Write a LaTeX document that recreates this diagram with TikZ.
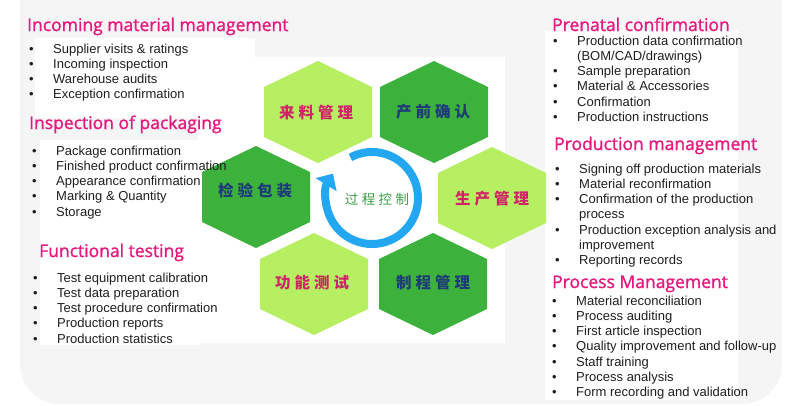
\documentclass[tikz,border=0pt]{standalone}
\usepackage{fontspec}
\setmainfont{Liberation Sans}
\newfontfamily\headfont[FakeBold=1.3]{Open Sans}
\newfontfamily\cjkfont{Noto Sans CJK SC}
\usetikzlibrary{arrows.meta}

\definecolor{headpink}{HTML}{E5197E}
\definecolor{lightgreen}{HTML}{B6F062}
\definecolor{darkgreen}{HTML}{3CB23C}
\definecolor{labelpink}{HTML}{D2226A}
\definecolor{labelnavy}{HTML}{1E3A78}
\definecolor{ringblue}{HTML}{22A7F0}
\definecolor{centergreen}{HTML}{3E9E4A}
\definecolor{backdrop}{HTML}{F5F5F5}

\newcommand\itm{\makebox[24pt][l]{•}}
\newcommand\itmcont{\hspace*{24pt}}
\newcommand\cg{\hspace{4pt}}

\tikzset{
  pics/hexcell/.style={code={
    \path[pic actions] (0,-51) -- (54,-25) -- (54,25) -- (0,51) -- (-54,25) -- (-54,-25) -- cycle;
  }},
}

\begin{document}
\begin{tikzpicture}[x=1pt, y=-1pt,
  every node/.style={inner sep=0pt},
  heading/.style={anchor=base west, text=headpink, font=\headfont\fontsize{17.5}{20}\selectfont},
  itemlist/.style={anchor=base west, text=black!88, font=\fontsize{13}{15.3}\selectfont},
  lightcell/.style={fill=lightgreen},
  darkcell/.style={fill=darkgreen},
  lightlabel/.style={text=labelpink, font=\cjkfont\bfseries\fontsize{15.5}{18}\selectfont},
  darklabel/.style={text=labelnavy, font=\cjkfont\bfseries\fontsize{15.5}{18}\selectfont},
  ringarrow/.style={draw=ringblue, line width=8pt, -{Triangle[width=24pt,length=13pt]}}]

\useasboundingbox (0,0) rectangle (794,405);

% backdrop
\fill[backdrop, rounded corners=40pt] (20,-40) rectangle (782,404);
\fill[white] (35,38) rectangle (255,118);
\fill[white] (40,140) rectangle (200,345);
\fill[white] (198,57) rectangle (505,343);
\fill[white] (545,30) rectangle (738,400);

% hexagon ring
\pic[lightcell] at (318,112) {hexcell};
\pic[darkcell] at (434,112) {hexcell};
\pic[lightcell] at (492,198) {hexcell};
\pic[darkcell] at (433,284) {hexcell};
\pic[lightcell] at (314,284) {hexcell};
\pic[darkcell] at (256,197) {hexcell};

\node[lightlabel] (incoming) at (316,113) {来\cg 料\cg 管\cg 理};
\node[darklabel] (prenatal) at (433,112) {产\cg 前\cg 确\cg 认};
\node[lightlabel] (production) at (492,199) {生\cg 产\cg 管\cg 理};
\node[darklabel] (process) at (433,283) {制\cg 程\cg 管\cg 理};
\node[lightlabel] (testing) at (312,283) {功\cg 能\cg 测\cg 试};
\node[darklabel] (packaging) at (255,191) {检\cg 验\cg 包\cg 装};

% centre loop
\draw[ringarrow] (372,198) ++(-118:46) arc[start angle=-118, end angle=212, radius=46];
\node[text=centergreen, font=\cjkfont\fontsize{13.5}{16}\selectfont] (control) at (377,199) {过\hspace{3.5pt}程\hspace{3.5pt}控\hspace{3.5pt}制};

% left column
\node[heading] (incominghead) at (27,31) {Incoming material management};
\node[itemlist] (incominglist) at (29,53) {\begin{tabular}[t]{@{}l@{}}
\itm Supplier visits \& ratings\\
\itm Incoming inspection\\
\itm Warehouse audits\\
\itm Exception confirmation
\end{tabular}};

\node[heading] (packaginghead) at (29,129) {Inspection of packaging};
\node[itemlist] (packaginglist) at (32,155) {\begin{tabular}[t]{@{}l@{}}
\itm Package confirmation\\
\itm Finished product confirmation\\
\itm Appearance confirmation\\
\itm Marking \& Quantity\\
\itm Storage
\end{tabular}};

\node[heading] (testinghead) at (39,257) {Functional testing};
\node[itemlist] (testinglist) at (33,282) {\begin{tabular}[t]{@{}l@{}}
\itm Test equipment calibration\\
\itm Test data preparation\\
\itm Test procedure confirmation\\
\itm Production reports\\
\itm Production statistics
\end{tabular}};

% right column
\node[heading] (prenatalhead) at (552,31) {Prenatal confirmation};
\node[itemlist] (prenatallist) at (553,45) {\begin{tabular}[t]{@{}l@{}}
\itm Production data confirmation\\
\itmcont (BOM/CAD/drawings)\\
\itm Sample preparation\\
\itm Material \& Accessories\\
\itm Confirmation\\
\itm Production instructions
\end{tabular}};

\node[heading] (productionhead) at (554,150) {Production management};
\node[itemlist] (productionlist) at (555,173) {\begin{tabular}[t]{@{}l@{}}
\itm Signing off production materials\\
\itm Material reconfirmation\\
\itm Confirmation of the production\\
\itmcont process\\
\itm Production exception analysis and\\
\itmcont improvement\\
\itm Reporting records
\end{tabular}};

\node[heading] (processhead) at (552,288) {Process Management};
\node[itemlist] (processlist) at (552,305) {\begin{tabular}[t]{@{}l@{}}
\itm Material reconciliation\\
\itm Process auditing\\
\itm First article inspection\\
\itm Quality improvement and follow-up\\
\itm Staff training\\
\itm Process analysis\\
\itm Form recording and validation
\end{tabular}};
\end{tikzpicture}
\end{document}
